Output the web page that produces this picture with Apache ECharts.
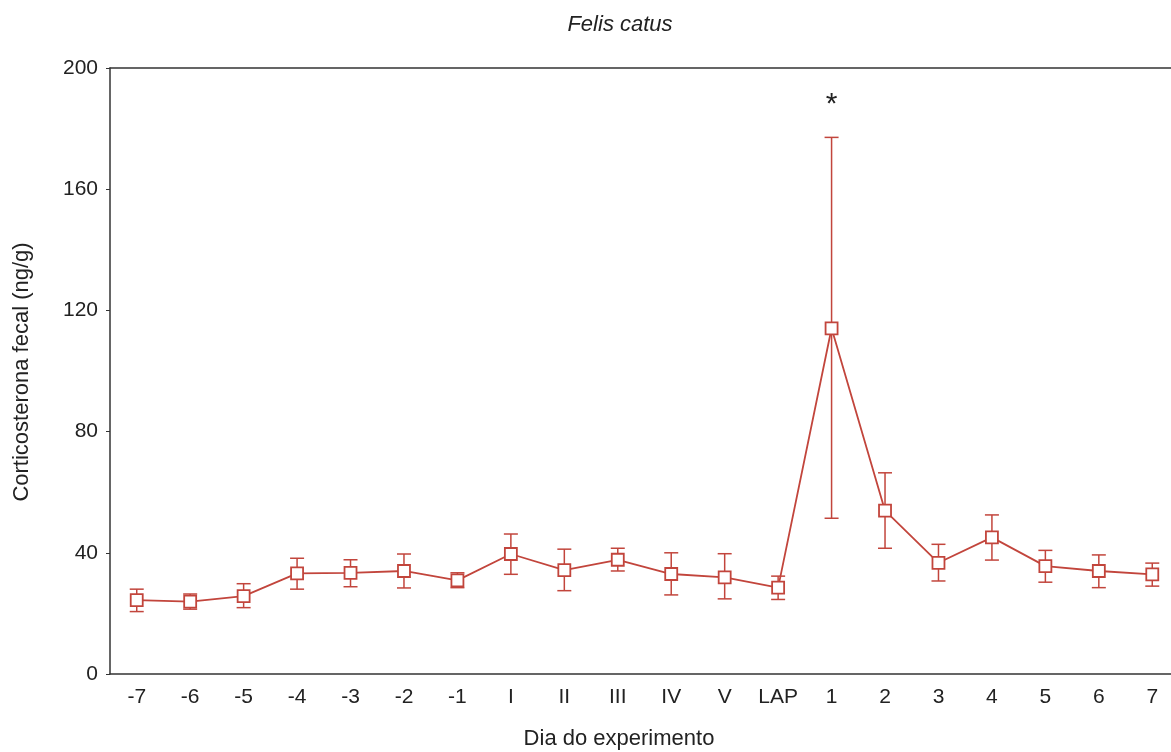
<!DOCTYPE html>
<html>
<head>
<meta charset="utf-8">
<script src="https://cdn.jsdelivr.net/npm/echarts@6/dist/echarts.min.js"></script>
<style>html,body{margin:0;padding:0;background:#fff;overflow:hidden;}#c{width:1179px;height:752px;}</style>
</head>
<body>
<div id="c"></div>
<script>
const categories = ['-7','-6','-5','-4','-3','-2','-1','I','II','III','IV','V','LAP','1','2','3','4','5','6','7'];
const means =  [24.4, 23.9, 25.7, 33.2, 33.4, 34.0, 30.9, 39.6, 34.3, 37.7, 33.0, 31.9, 28.5, 114.1, 53.9, 36.7, 45.1, 35.6, 34.0, 32.9];
const upper =  [28.0, 26.4, 29.8, 38.2, 37.7, 39.6, 33.4, 46.2, 41.2, 41.5, 40.0, 39.7, 32.3, 177.1, 66.4, 42.8, 52.5, 40.8, 39.3, 36.6];
const lower =  [20.6, 21.4, 21.9, 28.0, 28.8, 28.4, 28.5, 32.9, 27.5, 34.0, 26.1, 24.8, 24.6, 51.4, 41.5, 30.7, 37.6, 30.3, 28.5, 29.0];
const yTicks = [0, 40, 80, 120, 160, 200];
const annotations = [{ cat: '1', value: 188, text: '*' }];

const RED = '#c2453c';
const FONT = 'Liberation Sans, Arial, sans-serif';

const chart = echarts.init(document.getElementById('c'));
const errData = categories.map((c, i) => [i, lower[i], upper[i]]);

chart.setOption({
  animation: false,
  grid: { left: 110, right: 0, top: 68, bottom: 78 },
  xAxis: [{
    type: 'category', data: categories, boundaryGap: true, position: 'bottom',
    axisLine: { lineStyle: { color: '#333', width: 1.5 } },
    axisTick: { inside: true, length: 4, lineStyle: { color: '#333' } },
    axisLabel: { color: '#222', fontSize: 21, fontFamily: FONT, margin: 13 },
    splitLine: { show: false }
  }, {
    type: 'category', data: categories, boundaryGap: true, position: 'top',
    axisLine: { lineStyle: { color: '#333', width: 1.5 } },
    axisTick: { inside: true, length: 4, lineStyle: { color: '#333' } },
    axisLabel: { show: false },
    splitLine: { show: false }
  }],
  yAxis: {
    type: 'value', min: yTicks[0], max: yTicks[yTicks.length - 1], interval: 40,
    axisLine: { show: true, lineStyle: { color: '#333', width: 1.5 } },
    axisTick: { show: true, inside: false, length: 4, lineStyle: { color: '#333' } },
    axisLabel: { color: '#222', fontSize: 21, fontFamily: FONT, margin: 12 },
    splitLine: { show: false }
  },
  graphic: [
    { type: 'text', x: 620, y: 25, style: { text: 'Felis catus', font: 'italic 22px ' + FONT, fill: '#222', align: 'center', verticalAlign: 'middle' } },
    { type: 'text', x: 619, y: 739, style: { text: 'Dia do experimento', font: '22px ' + FONT, fill: '#222', align: 'center', verticalAlign: 'middle' } },
    { type: 'text', x: 22, y: 372, rotation: Math.PI / 2, style: { text: 'Corticosterona fecal (ng/g)', font: '22px ' + FONT, fill: '#222', align: 'center', verticalAlign: 'middle' } }
  ],
  series: [{
    type: 'custom',
    data: errData,
    z: 2,
    renderItem: function (params, api) {
      const x = api.coord([api.value(0), 0])[0];
      const lo = api.coord([api.value(0), api.value(1)])[1];
      const hi = api.coord([api.value(0), api.value(2)])[1];
      const hw = 7;
      const st = { stroke: RED, lineWidth: 1.5 };
      return { type: 'group', children: [
        { type: 'line', shape: { x1: x, y1: lo, x2: x, y2: hi }, style: st },
        { type: 'line', shape: { x1: x - hw, y1: lo, x2: x + hw, y2: lo }, style: st },
        { type: 'line', shape: { x1: x - hw, y1: hi, x2: x + hw, y2: hi }, style: st }
      ]};
    }
  }, {
    type: 'line',
    data: means,
    z: 3,
    symbol: 'rect', symbolSize: 12,
    itemStyle: { color: '#fff', borderColor: RED, borderWidth: 1.8 },
    lineStyle: { color: RED, width: 1.8 },
    markPoint: {
      symbol: 'circle', symbolSize: 0,
      label: { show: true, formatter: p => p.data.name, fontSize: 30, color: '#222', fontFamily: FONT, position: 'inside' },
      data: annotations.map(a => ({ coord: [a.cat, a.value], name: a.text }))
    }
  }]
});
</script>
</body>
</html>
